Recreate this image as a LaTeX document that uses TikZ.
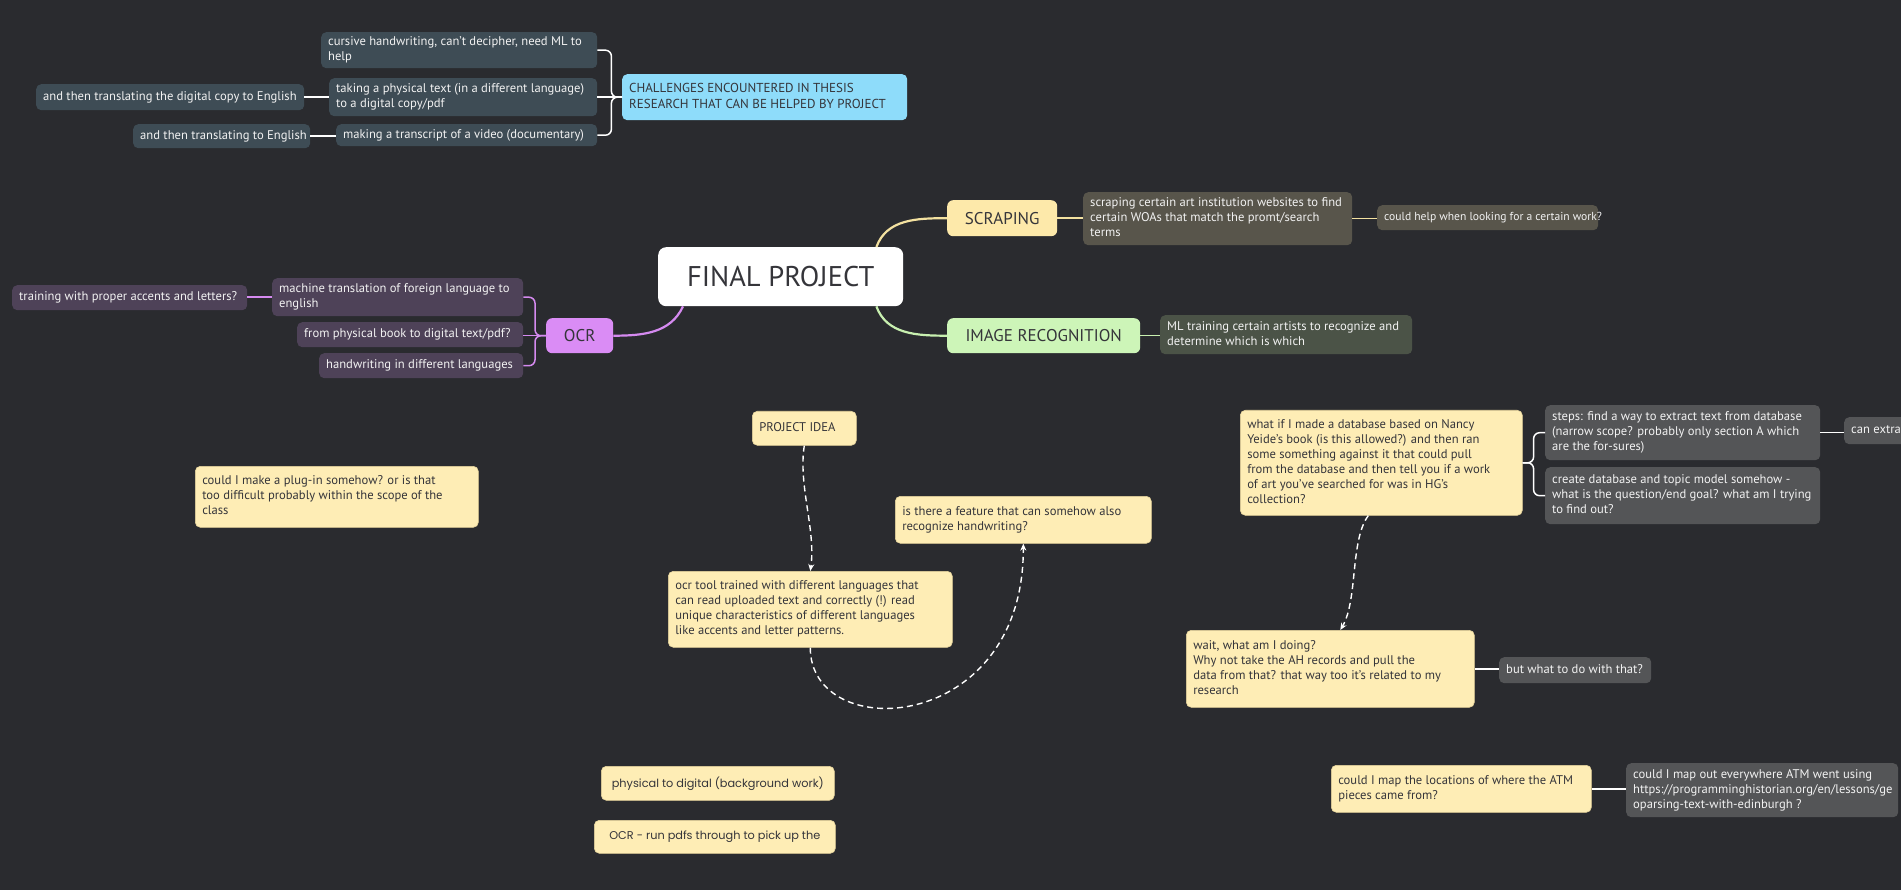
\documentclass[tikz,border=0pt]{standalone}
\usepackage{fontspec}
\setmainfont{PT Sans}
\newfontfamily\popfont{Poppins}
\usetikzlibrary{arrows.meta,calc}
\definecolor{cBg}{HTML}{2A2B2F}
\definecolor{cBlue}{HTML}{8EDCFA}
\definecolor{cSlate}{HTML}{3E4C55}
\definecolor{cYellow}{HTML}{FDE9AA}
\definecolor{cGreen}{HTML}{CDF5B8}
\definecolor{cPurple}{HTML}{DA8CF5}
\definecolor{cOlive}{HTML}{58554B}
\definecolor{cDkGreen}{HTML}{4B5347}
\definecolor{cPlum}{HTML}{4E4258}
\definecolor{cNote}{HTML}{FEEDB5}
\definecolor{cNoteBorder}{HTML}{E6D49C}
\definecolor{cGray}{HTML}{545557}
\definecolor{cDarkText}{HTML}{35353A}
\definecolor{cLightText}{HTML}{F2F2F2}
\definecolor{cYLine}{HTML}{F3E1A0}
\definecolor{cGLine}{HTML}{C8F0B0}
\definecolor{cPLine}{HTML}{D58AF0}
\tikzset{
  base/.style={rounded corners=5pt, inner xsep=7pt, inner ysep=2pt,
    font=\fontsize{12.6}{15}\selectfont},
  slate/.style={base, fill=cSlate, text=cLightText},
  olive/.style={base, fill=cOlive, text=cLightText},
  dkgreen/.style={base, fill=cDkGreen, text=cLightText},
  plum/.style={base, fill=cPlum, text=cLightText},
  graybox/.style={base, fill=cGray, text=cLightText},
  note/.style={base, fill=cNote, draw=cNoteBorder, line width=0.6pt, text=cDarkText},
  popnote/.style={note, inner sep=0pt, font=\popfont\fontsize{11.3}{13}\selectfont},
  bluebox/.style={base, fill=cBlue, text=cDarkText, font=\fontsize{13}{16}\selectfont},
  topic/.style={rounded corners=6pt, inner sep=0pt, text=cDarkText,
    font=\fontsize{17}{19}\selectfont},
  central/.style={rounded corners=8pt, inner sep=0pt, fill=white, text=cDarkText,
    font=\fontsize{28.5}{32}\selectfont},
  wl/.style={draw=white, line width=1.5pt},
  yl/.style={draw=cYLine, line width=2.2pt},
  gl/.style={draw=cGLine, line width=2.2pt},
  pl/.style={draw=cPLine, line width=2.2pt},
  pls/.style={draw=cPLine, line width=1.5pt},
  yls/.style={draw=cYLine, line width=1.5pt},
  gls/.style={draw=cGLine, line width=1.5pt},
  dasharrow/.style={draw=white, line width=1.4pt, dash pattern=on 6pt off 4pt,
    -{Stealth[length=7pt,width=6pt]}},
}
% style, name, x, y, w, h, text (left aligned, fixed box)
\newcommand\nb[7]{\node[#1,anchor=north west,minimum width=#5pt,
  minimum height=#6pt] (#2) at (#3,#4)
  {\makebox[\dimexpr #5pt-14pt\relax][l]{\begin{tabular}{@{}l@{}}#7\end{tabular}}};}
% style, name, x, y, w, h, text (centred)
\newcommand\tb[7]{\node[#1,anchor=north west,minimum width=#5pt,
  minimum height=#6pt] (#2) at (#3,#4) {#7};}
\begin{document}
\begin{tikzpicture}[x=1pt,y=-1pt]
\fill[cBg] (0,0) rectangle (1901,890);
\useasboundingbox (0,0) rectangle (1901,890);
\clip (0,0) rectangle (1901,890);

% challenges
\nb{slate}{cursive}{321}{32}{276}{36}{cursive handwriting, can't decipher, need ML to\\help}
\nb{slate}{taking}{329}{78}{268}{38}{taking a physical text (in a different language)\\to a digital copy/pdf}
\nb{slate}{making}{336}{124}{261}{22}{making a transcript of a video (documentary)}
\nb{slate}{andthenA}{36}{84}{268}{26}{and then translating the digital copy to English}
\nb{slate}{andthenB}{133}{124}{177}{24}{and then translating to English}
\nb{bluebox}{challenge}{622}{74}{285}{46}{CHALLENGES ENCOUNTERED IN THESIS\\RESEARCH THAT CAN BE HELPED BY PROJECT}

% central and topics
\tb{central}{final}{658}{247}{245}{59}{FINAL PROJECT}
\tb{topic,fill=cYellow}{scraping}{947}{200}{110}{36}{SCRAPING}
\tb{topic,fill=cGreen}{imgrec}{947}{318}{193}{35}{IMAGE RECOGNITION}
\tb{topic,fill=cPurple}{ocr}{546}{318}{67}{35}{OCR}

\nb{olive}{scrchild}{1083}{192}{269}{53}{scraping certain art institution websites to find\\certain WOAs that match the promt/search\\terms}
\nb{olive,font=\fontsize{11.6}{15}\selectfont}{couldhelp}{1377}{205}{221}{25}{could help when looking for a certain work?}
\nb{dkgreen}{mltrain}{1160}{315}{252}{39}{ML training certain artists to recognize and\\determine which is which}
\nb{plum}{machine}{272}{278}{251}{38}{machine translation of foreign language to\\english}
\nb{plum}{physbook}{297}{322}{226}{25}{from physical book to digital text/pdf?}
\nb{plum}{handwr}{319}{353}{204}{25}{handwriting in different languages}
\nb{plum}{training}{12}{285}{235}{25}{training with proper accents and letters?}

% free notes
\nb{note}{projidea}{752}{411}{104}{34}{PROJECT IDEA}
\nb{note}{plugin}{195}{466}{283}{61}{could I make a plug-in somehow? or is that\\too difficult probably within the scope of the\\class}
\nb{note}{feature}{895}{496}{256}{47}{is there a feature that can somehow also\\recognize handwriting?}
\nb{note}{ocrtool}{668}{571}{284}{76}{ocr tool trained with different languages that\\can read uploaded text and correctly (!) read\\unique characteristics of different languages\\like accents and letter patterns.}
\nb{note}{whatif}{1240}{410}{282}{105}{what if I made a database based on Nancy\\Yeide's book (is this allowed?) and then ran\\some something against it that could pull\\from the database and then tell you if a work\\of art you've searched for was in HG's\\collection?}
\nb{graybox}{steps}{1545}{405}{275}{55}{steps: find a way to extract text from database\\(narrow scope? probably only section A which\\are the for-sures)}
\nb{graybox}{create}{1545}{467}{275}{57}{create database and topic model somehow -\\what is the question/end goal? what am I trying\\to find out?}
\nb{graybox}{canextra}{1844}{417}{90}{27}{can extra}
\nb{note}{wait}{1186}{630}{288}{77}{wait, what am I doing?\\Why not take the AH records and pull the\\data from that? that way too it's related to my\\research}
\nb{graybox}{butwhat}{1499}{657}{152}{26}{but what to do with that?}
\nb{note}{maploc}{1331}{765}{260}{47}{could I map the locations of where the ATM\\pieces came from?}
\nb{graybox}{mapout}{1626}{763}{272}{54}{could I map out everywhere ATM went using\\https://programminghistorian.org/en/lessons/ge\\oparsing-text-with-edinburgh ?}
\tb{popnote}{phystodig}{601}{766}{233}{34}{physical to digital (background work)}
\tb{popnote}{ocrrun}{594}{820}{241}{33}{OCR - run pdfs through to pick up the}

% connectors: challenges
\draw[wl,rounded corners=6pt] (cursive.east) -- ++(14,0) |- (challenge.west);
\draw[wl,rounded corners=6pt] (making.east) -- ++(14,0) |- (challenge.west);
\draw[wl] (taking.east) -- (taking.east -| challenge.west);
\draw[wl] (andthenA.east) -- (andthenA.east -| taking.west);
\draw[wl] (andthenB.east) -- (andthenB.east -| making.west);

% central branches
\draw[yl] ($(final.north east)+(-27,0)$) to[out=70,in=180] (scraping.west);
\draw[gl] ($(final.south east)+(-27,0)$) to[out=-70,in=180] (imgrec.west);
\draw[pl] ($(final.south west)+(25,0)$) to[out=-115,in=0] (ocr.east);
\draw[yls] (scraping.east) -- (scraping.east -| scrchild.west);
\draw[yls] (scrchild.east) -- (scrchild.east -| couldhelp.west);
\draw[gls] (imgrec.east) -- (imgrec.east -| mltrain.west);

% OCR bracket
\draw[pls,rounded corners=6pt] (ocr.west) -- ++(-11,0) |- (machine.east);
\draw[pls,rounded corners=6pt] (ocr.west) -- ++(-11,0) |- (handwr.east);
\draw[pls] (ocr.west) -- (ocr.west -| physbook.east);
\draw[pls] (machine.west) -- (machine.west -| training.east);

% what-if bracket
\draw[wl,rounded corners=6pt] (whatif.east) -- ++(11,0) |- (steps.west);
\draw[wl,rounded corners=6pt] (whatif.east) -- ++(11,0) |- (create.west);
\draw[wl] (steps.east) -- (steps.east -| canextra.west);
\draw[wl] (wait.east) -- (wait.east -| butwhat.west);
\draw[wl] (maploc.east) -- (maploc.east -| mapout.west);

% dashed arrows
\draw[dasharrow] (projidea.south) .. controls (798,485) and (816,530) .. (ocrtool.north);
\draw[dasharrow] (ocrtool.south) .. controls (810,745) and (1024,735) .. (feature.south);
\draw[dasharrow] ($(whatif.south)+(-13,0)$) .. controls (1350,540) and (1358,600) .. ($(wait.north)+(10,0)$);
\end{tikzpicture}
\end{document}
